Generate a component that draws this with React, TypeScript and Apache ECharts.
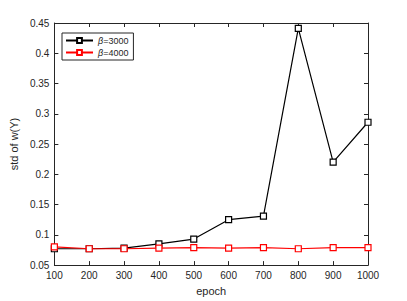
import React, { useEffect, useRef } from "react";
import * as echarts from "echarts";

const epochs = ["100", "200", "300", "400", "500", "600", "700", "800", "900", "1000"];
const beta3000 = [0.077, 0.077, 0.078, 0.085, 0.093, 0.125, 0.131, 0.441, 0.22, 0.286];
const beta4000 = [0.08, 0.077, 0.077, 0.078, 0.079, 0.078, 0.079, 0.077, 0.079, 0.079];
const seriesNames = ["β=3000", "β=4000"];

export default function App() {
  const ref = useRef<HTMLDivElement>(null);
  useEffect(() => {
    const chart = echarts.init(ref.current!, null, { renderer: "svg" });
    const font = "Liberation Sans, Arial, sans-serif";
    const axisCol = "#262626";
    const boxAxis = {
      axisLine: { show: true, lineStyle: { color: axisCol, width: 1 } },
      axisTick: { show: true, inside: true, length: 4, lineStyle: { color: axisCol } },
      splitLine: { show: false },
    };
    chart.setOption({
      animation: false,
      backgroundColor: "#ffffff",
      textStyle: { fontFamily: font },
      grid: { left: 53, right: 39, top: 23, bottom: 34 },
      legend: {
        left: 62,
        top: 33,
        orient: "vertical",
        itemGap: 3,
        itemWidth: 27,
        itemHeight: 6,
        padding: [3, 5, 3, 3],
        borderColor: axisCol,
        borderWidth: 1,
        backgroundColor: "#fff",
        textStyle: {
          fontSize: 9,
          color: axisCol,
          fontFamily: font,
          rich: { i: { fontSize: 9, fontStyle: "italic", color: axisCol, fontFamily: font } },
        },
        formatter: (name: string) => "{i|β}=" + name.slice(2),
        data: seriesNames,
      },
      xAxis: [
        {
          type: "category",
          data: epochs,
          boundaryGap: false,
          name: "epoch",
          nameLocation: "middle",
          nameGap: 18,
          nameTextStyle: { fontSize: 11, color: axisCol, fontFamily: font },
          axisLabel: { fontSize: 10, color: axisCol, margin: 5, fontFamily: font },
          ...boxAxis,
        },
        {
          type: "category",
          data: epochs,
          boundaryGap: false,
          position: "top",
          axisLabel: { show: false },
          ...boxAxis,
        },
      ],
      yAxis: [
        {
          type: "value",
          min: 0.05,
          max: 0.45,
          interval: 0.05,
          name: "std of w(Y)",
          nameLocation: "middle",
          nameGap: 30,
          nameTextStyle: { fontSize: 11, color: axisCol, fontFamily: font },
          axisLabel: { fontSize: 10, color: axisCol, margin: 5, fontFamily: font, formatter: (v: number) => String(Math.round(v * 100) / 100) },
          ...boxAxis,
        },
        {
          type: "value",
          min: 0.05,
          max: 0.45,
          interval: 0.05,
          position: "right",
          axisLabel: { show: false },
          ...boxAxis,
        },
      ],
      series: [
        {
          name: seriesNames[0],
          type: "line",
          data: beta3000,
          symbol: "rect",
          symbolSize: 6,
          showAllSymbol: true,
          lineStyle: { color: "#000", width: 1.2 },
          itemStyle: { color: "#fff", borderColor: "#000", borderWidth: 1.2 },
          z: 2,
        },
        {
          name: seriesNames[1],
          type: "line",
          data: beta4000,
          symbol: "rect",
          symbolSize: 6,
          showAllSymbol: true,
          lineStyle: { color: "#ff0000", width: 1.2 },
          itemStyle: { color: "#fff", borderColor: "#ff0000", borderWidth: 1.2 },
          z: 3,
        },
      ],
    });
    return () => chart.dispose();
  }, []);
  return <div ref={ref} style={{ width: 407, height: 301, position: "fixed", left: 0, top: 0 }} />;
}
